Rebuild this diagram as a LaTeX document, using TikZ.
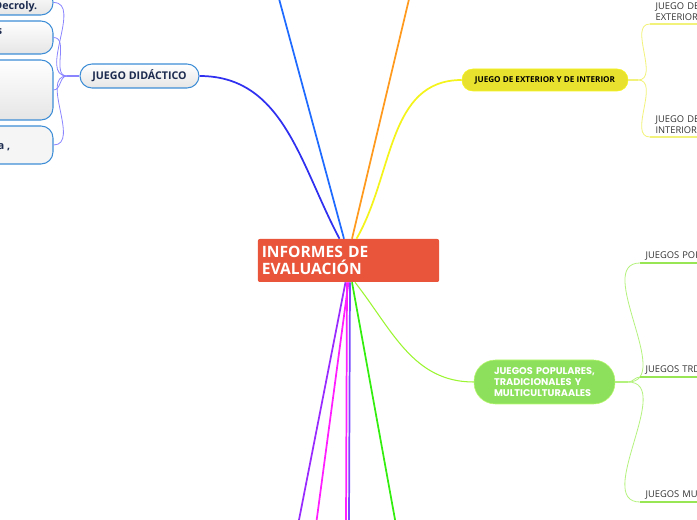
\documentclass[tikz,border=0pt]{standalone}
\usepackage{fontspec}
\setmainfont{Open Sans}
\newfontfamily\popfont{Poppins}
\usetikzlibrary{calc}
\definecolor{evalred}{HTML}{E9553B}
\definecolor{didborder}{HTML}{3C8DD6}
\definecolor{didtext}{HTML}{1C2B4F}
\definecolor{lineblue}{HTML}{1F6BFF}
\definecolor{linedeep}{HTML}{3030F0}
\definecolor{lineorange}{HTML}{FF9A1E}
\definecolor{lineyellow}{HTML}{F4F41C}
\definecolor{extfill}{HTML}{E8E22E}
\definecolor{extbranch}{HTML}{F2F27A}
\definecolor{popfill}{HTML}{8CE05C}
\definecolor{linelime}{HTML}{9BF531}
\definecolor{popbranch}{HTML}{B4F27E}
\definecolor{popline}{HTML}{99E655}
\definecolor{linepurple}{HTML}{9A2BFF}
\definecolor{linemagenta}{HTML}{FF1EFF}
\definecolor{lineviolet}{HTML}{7A4CFF}
\definecolor{linegreen}{HTML}{33EE0F}
\definecolor{didbranch}{HTML}{8A84FF}
\definecolor{leaftext}{HTML}{333333}

\begin{document}
\begin{tikzpicture}[
  x=0.75pt, y=-0.75pt,
  topic/.style={rounded corners=9pt, draw=didborder, line width=0.8pt,
                top color=white, bottom color=black!10, inner sep=0pt},
  sub/.style={rounded corners=8pt, inner sep=0pt, align=left},
  leaf/.style={anchor=south west, inner xsep=4pt, inner ysep=2pt, text width=50pt,
               align=left, font=\fontsize{7}{8.6}\selectfont, text=leaftext},
  main/.style={line width=1.3pt},
  twig/.style={line width=0.6pt},
]
\clip (0,0) rectangle (697,520);
% central topic
\node[fill=evalred, rounded corners=1.5pt, minimum width=135.75pt, minimum height=32.25pt,
      inner sep=3pt, text width=130pt, align=left, text=white,
      font=\fontsize{11.7}{12.6}\selectfont\bfseries] (eval) at (348.5,260.5)
   {INFORMES DE\\EVALUACIÓN};
% main topics
\node[topic, minimum width=89.25pt, minimum height=18pt, text=didtext,
      font=\fontsize{8}{9}\selectfont\bfseries] (did) at (139.5,76) {JUEGO DIDÁCTICO};
\node[sub, fill=extfill, draw=lineyellow, minimum width=124.5pt, minimum height=16.5pt,
      font=\fontsize{6.1}{7}\selectfont\bfseries] (ext) at (545,80)
   {JUEGO DE EXTERIOR Y DE INTERIOR};
\node[sub, rounded corners=16pt, fill=popfill, draw=linelime!70, minimum width=105.75pt,
      minimum height=33pt, text=white, text width=75.75pt,
      font=\popfont\fontsize{7.3}{8.3}\selectfont\bfseries] (pop) at (544.5,382)
   {JUEGOS POPULARES,\\TRADICIONALES Y\\MULTICULTURAALES};
% boxes under JUEGO DIDACTICO
\node[topic, minimum width=54.75pt, minimum height=18.75pt] (d1) at (16.5,2.5) {};
\node[topic, minimum width=54.75pt, minimum height=24.75pt] (d2) at (16.5,37.5) {};
\node[topic, minimum width=54.75pt, minimum height=45pt] (d3) at (16.5,90) {};
\node[topic, minimum width=54.75pt, minimum height=28.5pt, top color=black!4,
      bottom color=black!4] (d4) at (16.5,145) {};
\node[anchor=east, text=didtext, font=\fontsize{8}{9}\selectfont\bfseries] at (42,7) {Decroly.};
\node[anchor=east, text=didtext, font=\fontsize{8}{9}\selectfont\bfseries] at (7,32) {s};
\node[anchor=east, text=didtext, font=\fontsize{8}{9}\selectfont\bfseries] at (15,147) {a ,};
% leaves
\node[leaf] (lext) at (650,24) {JUEGO DE\\EXTERIOR};
\node[leaf] (lint) at (650,137) {JUEGO DE\\INTERIOR};
\node[leaf] (lpop) at (640,263) {JUEGOS POP};
\node[leaf] (ltrd) at (640,377) {JUEGOS TRD};
\node[leaf] (lmul) at (640,502) {JUEGOS MUL};
% free ends
\coordinate (tblue) at (278,-5);
\coordinate (torange) at (410,-5);
\coordinate (bpurple) at (298,525);
\coordinate (bmagenta) at (316,525);
\coordinate (bmagstr) at (346,525);
\coordinate (bviolet) at (349,525);
\coordinate (bgreen) at (396,525);
\coordinate (jd) at (67,76);
\coordinate (jy) at (638,80);
\coordinate (jp) at (628,382);
% branches from the centre
\draw[main, linedeep] ($(eval.north)+(-9,0)$) to[out=118,in=0] (did.east);
\draw[main, lineblue] ($(eval.north)+(-4.5,0)$) -- (tblue);
\draw[main, lineorange] ($(eval.north)+(3.5,0)$) -- (torange);
\draw[main, lineyellow] ($(eval.north)+(8,0)$) to[out=60,in=180] (ext.west);
\draw[main, linepurple] ($(eval.south)+(-3,0)$) -- (bpurple);
\draw[main, linemagenta] ($(eval.south)+(0,0)$) -- (bmagenta);
\draw[main, linemagenta] ($(eval.south)+(-1.5,0)$) -- (bmagstr);
\draw[main, lineviolet] ($(eval.south)+(1.5,0)$) -- (bviolet);
\draw[main, linegreen] ($(eval.south)+(3.5,0)$) -- (bgreen);
\draw[twig, linelime, line width=0.8pt] ($(eval.south)+(6.5,0)$) to[out=-52,in=180] (pop.west);
% JUEGO DIDACTICO children
\draw[didbranch, line width=1.4pt] (did.west) -- (jd);
\foreach \b in {d1,d2,d3,d4}
  \draw[twig, didbranch] (jd) to[out=180,in=0] (\b.east);
% exterior / interior
\draw[twig, extbranch, line width=1pt] (ext.east) -- (jy);
\draw[twig, extbranch] (jy) to[out=0,in=180] (lext.south west);
\draw[twig, extbranch] (jy) to[out=0,in=180] (lint.south west);
\draw[extbranch, line width=1.4pt] (lext.south west) -- (lext.south east);
\draw[extbranch, line width=1.4pt] (lint.south west) -- (lint.south east);
% populares
\draw[twig, popbranch, line width=1pt] (pop.east) -- (jp);
\foreach \l in {lpop,ltrd,lmul} {
  \draw[twig, popbranch] (jp) to[out=0,in=180] (\l.south west);
  \draw[popline, line width=1.4pt] (\l.south west) -- (\l.south east);
}
\end{tikzpicture}
\end{document}
